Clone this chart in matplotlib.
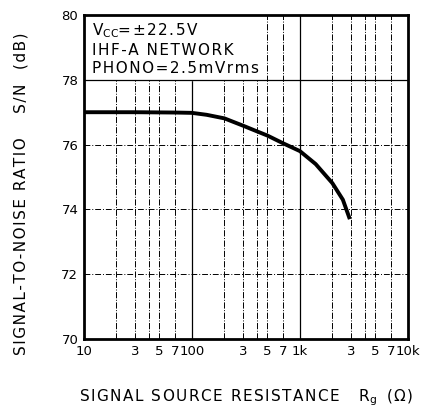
import numpy as np
import matplotlib.pyplot as plt

# data
rg = [10, 30, 70, 100, 137, 200, 300, 400, 500, 700, 1000, 1400, 2000, 2500, 2900]
sn = [77.0, 77.0, 76.99, 76.98, 76.92, 76.81, 76.58, 76.41, 76.28, 76.04, 75.8, 75.4, 74.81, 74.3, 73.7]

xtick_pos = [10, 30, 50, 70, 100, 300, 500, 700, 1000, 3000, 5000, 7000, 10000]
xtick_lab = ['10', '3', '5', '7', '100', '3', '5', '7', '1k', '3', '5', '7', '10k']
ytick_pos = [70, 72, 74, 76, 78, 80]

plt.rcParams['font.family'] = ['DejaVu Sans']


def spaced(s, sep='\u200a'):
    # old datasheet lettering is wide, pad letters with hair spaces
    return sep.join(s)


fig = plt.figure(figsize=(4.28, 4.17), dpi=100)
ax = fig.add_axes([0.196, 0.187, 0.757, 0.777])
ax.set_xscale('log')
ax.set_xlim(10, 10000)
ax.set_ylim(70, 80)

# grid: decades solid, the rest dash-dot
minor_x = [m * d for d in (10, 100, 1000) for m in (2, 3, 4, 5, 7)]
for x in minor_x:
    ax.axvline(x, color='black', lw=0.7, ls='-.', zorder=1)
for x in (100, 1000):
    ax.axvline(x, color='black', lw=0.9, zorder=1)
for y in (72, 74, 76):
    ax.axhline(y, color='black', lw=0.7, ls=(0, (6, 2, 1, 2)), zorder=1)
ax.axhline(78, color='black', lw=0.9, zorder=3)

# white box behind the conditions text
ax.fill_between([10, 450], 78, 80, color='white', zorder=2)
ax.text(11.8, 79.38, 'V$_{\\mathregular{CC}}$' + spaced('=±22.5V'), fontsize=11, zorder=3)
ax.text(11.8, 78.77, spaced('IHF-A NETWORK'), fontsize=11, zorder=3)
ax.text(11.8, 78.22, spaced('PHONO=2.5mVrms'), fontsize=11, zorder=3)

ax.plot(rg, sn, color='black', lw=2.8, zorder=4, solid_capstyle='butt')

ax.set_xticks(xtick_pos)
ax.set_xticklabels(xtick_lab)
ax.xaxis.set_minor_locator(plt.NullLocator())
ax.set_yticks(ytick_pos)
ax.tick_params(length=0, labelsize=9.5, pad=4)
for s in ax.spines.values():
    s.set_linewidth(2)

fig.text(0.048, 0.535, spaced('SIGNAL-TO-NOISE RATIO') + '     ' + spaced('S/N') + '   ' + spaced('(dB)'),
         rotation=90, ha='center', va='center', fontsize=11)
fig.text(0.575, 0.022, spaced('SIGNAL SOURCE RESISTANCE') + '    R$_{\\mathregular{g}}$  ' + spaced('(Ω)'),
         ha='center', va='bottom', fontsize=11)

fig.savefig('out.png', dpi=100)
